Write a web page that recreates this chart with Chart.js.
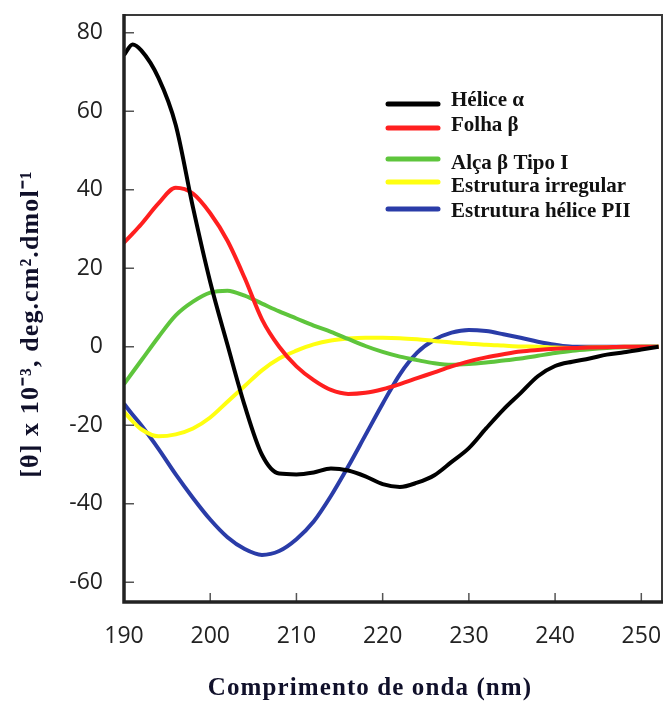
<!DOCTYPE html>
<html>
<head>
<meta charset="utf-8">
<script src="https://cdn.jsdelivr.net/npm/chart.js@4"></script>
<style>
  html, body { margin: 0; padding: 0; background: #ffffff; }
  #wrap { width: 664px; height: 702px; position: relative; }
</style>
</head>
<body>
<div id="wrap"><canvas id="c" width="664" height="702"></canvas></div>
<script>
// ---- data ----
const wavelengths = [190,191,192,194,196,198,200,202,204,206,208,210,212,214,216,218,220,222,224,226,228,230,232,234,236,238,240,242,244,246,248,250,252];
const heliceAlfa      = [74.3,77,75.5,68.5,56.5,35.5,16.5,0.5,-15,-27.5,-32.3,-32.5,-32,-31,-31.5,-33,-35,-35.7,-34.6,-32.7,-29.3,-25.8,-20.8,-16,-11.8,-7.5,-4.9,-3.8,-3,-2,-1.4,-0.7,0];
const folhaBeta       = [26.5,28.8,31.2,36.5,40.5,39,34,27,17.5,7,0,-5,-8.5,-11,-12,-11.7,-10.8,-9.5,-8,-6.5,-5,-3.7,-2.7,-1.9,-1.2,-0.8,-0.5,-0.3,-0.2,-0.1,0,0,0];
const alcaBetaTipoI   = [-9.5,-6.5,-3.5,2.5,8,11.5,13.8,14.3,13,11,9,7.2,5.4,3.8,2,0.2,-1.3,-2.5,-3.4,-4.2,-4.6,-4.4,-4,-3.5,-3,-2.3,-1.6,-1,-0.6,-0.3,-0.1,0,0];
const estruturaIrreg  = [-16.5,-19,-21,-22.8,-22.3,-20.8,-18,-14,-10,-6,-3,-1,0.6,1.6,2.1,2.3,2.3,2.2,1.9,1.5,1.1,0.8,0.5,0.3,0.1,0,-0.2,-0.3,-0.2,-0.1,0,0,0];
const heliceP2        = [-14.5,-17.3,-20,-26,-32.5,-38.5,-44,-48.5,-51.5,-53,-52,-49,-44.5,-38,-30.5,-22.5,-14.5,-7,-1.5,1.8,3.6,4.3,4,3.2,2.3,1.3,0.5,0,0,0,0,0,0];

const seriesLabels = ['Hélice α', 'Folha β', 'Alça β Tipo I', 'Estrutura irregular', 'Estrutura hélice PII'];
const seriesValues = [heliceAlfa, folhaBeta, alcaBetaTipoI, estruturaIrreg, heliceP2];
const seriesColors = ['#000000', '#ff1f1f', '#5ec53c', '#ffff10', '#2a3ca8'];

const xTicks = [190, 200, 210, 220, 230, 240, 250];
const yTicks = [-60, -40, -20, 0, 20, 40, 60, 80];

const xTitle = 'Comprimento de onda (nm)';
const yTitle = '[θ] x 10⁻³, deg.cm².dmol⁻¹';

// ---- plugins ----
const framePlugin = {
  id: 'frame',
  afterDatasetsDraw(chart) {
    const { ctx, chartArea: a, scales: { x, y } } = chart;
    ctx.save();
    ctx.strokeStyle = '#555555';
    ctx.lineWidth = 1.5;
    ctx.beginPath();
    x.ticks.forEach(t => {
      const px = x.getPixelForValue(t.value);
      ctx.moveTo(px, a.bottom);
      ctx.lineTo(px, a.bottom - 9);
    });
    y.ticks.forEach(t => {
      const py = y.getPixelForValue(t.value);
      ctx.moveTo(a.left, py);
      ctx.lineTo(a.left + 10, py);
    });
    ctx.stroke();
    ctx.strokeStyle = '#3a3a3a';
    ctx.lineWidth = 2;
    ctx.strokeRect(a.left, a.top, a.right - a.left, a.bottom - a.top);
    ctx.strokeStyle = '#222222';
    ctx.lineWidth = 3.5;
    ctx.beginPath();
    ctx.moveTo(a.left, a.top - 1);
    ctx.lineTo(a.left, a.bottom);
    ctx.lineTo(a.right + 1, a.bottom);
    ctx.stroke();
    ctx.restore();
  }
};

const titlesPlugin = {
  id: 'axisTitles',
  afterDraw(chart) {
    const ctx = chart.ctx;
    ctx.save();
    ctx.fillStyle = '#10102a';
    ctx.textAlign = 'center';
    ctx.textBaseline = 'alphabetic';
    ctx.font = 'bold 25px "Liberation Serif", "Times New Roman", serif';
    if ('letterSpacing' in ctx) ctx.letterSpacing = '1.1px';
    ctx.fillText(xTitle, 370, 695);
    ctx.translate(38, 324);
    ctx.rotate(-Math.PI / 2);
    ctx.font = 'bold 26px "Liberation Serif", "Times New Roman", serif';
    if ('letterSpacing' in ctx) ctx.letterSpacing = '1.1px';
    ctx.fillText(yTitle, 0, 0);
    ctx.restore();
  }
};

const legendPlugin = {
  id: 'customLegend',
  afterDraw(chart) {
    const ctx = chart.ctx;
    const lineRows = [104, 128, 159, 182, 209];
    const textRows = [106, 131, 169, 192, 217];
    ctx.save();
    ctx.font = 'bold 21px "Liberation Serif", "Times New Roman", serif';
    ctx.textBaseline = 'alphabetic';
    ctx.textAlign = 'left';
    chart.data.datasets.forEach((ds, i) => {
      ctx.strokeStyle = ds.borderColor;
      ctx.lineWidth = 5;
      ctx.lineCap = 'round';
      ctx.beginPath();
      ctx.moveTo(388, lineRows[i]);
      ctx.lineTo(438, lineRows[i]);
      ctx.stroke();
      ctx.fillStyle = '#111111';
      ctx.fillText(ds.label, 451, textRows[i]);
    });
    ctx.restore();
  }
};

// ---- chart ----
const datasets = seriesLabels.map((label, i) => ({
  label,
  data: wavelengths.map((w, j) => ({ x: w, y: seriesValues[i][j] })),
  borderColor: seriesColors[i],
  backgroundColor: seriesColors[i],
  borderWidth: 4,
  pointRadius: 0,
  fill: false,
  cubicInterpolationMode: 'monotone'
}));

new Chart(document.getElementById('c'), {
  type: 'line',
  data: { datasets },
  options: {
    responsive: false,
    devicePixelRatio: 1,
    animation: false,
    layout: { padding: { top: 15, right: 2, left: 0, bottom: 0 } },
    plugins: { legend: { display: false }, tooltip: { enabled: false } },
    scales: {
      x: {
        type: 'linear',
        min: 190,
        max: 252.4,
        afterBuildTicks: s => { s.ticks = xTicks.map(v => ({ value: v })); },
        afterFit: s => { s.height = 100; s.paddingLeft = 0; s.paddingRight = 0; },
        grid: { display: false },
        border: { display: false },
        ticks: {
          padding: 13,
          color: '#222222',
          font: { family: '"Open Sans", sans-serif', size: 23 }
        },
        title: { display: false, text: xTitle }
      },
      y: {
        type: 'linear',
        min: -65,
        max: 84.5,
        afterBuildTicks: s => { s.ticks = yTicks.map(v => ({ value: v })); },
        afterFit: s => { s.width = 124; s.paddingTop = 0; s.paddingBottom = 0; },
        grid: { display: false },
        border: { display: false },
        ticks: {
          padding: 13,
          color: '#222222',
          font: { family: '"Open Sans", sans-serif', size: 23 }
        },
        title: { display: false, text: yTitle }
      }
    }
  },
  plugins: [framePlugin, titlesPlugin, legendPlugin]
});
</script>
</body>
</html>
